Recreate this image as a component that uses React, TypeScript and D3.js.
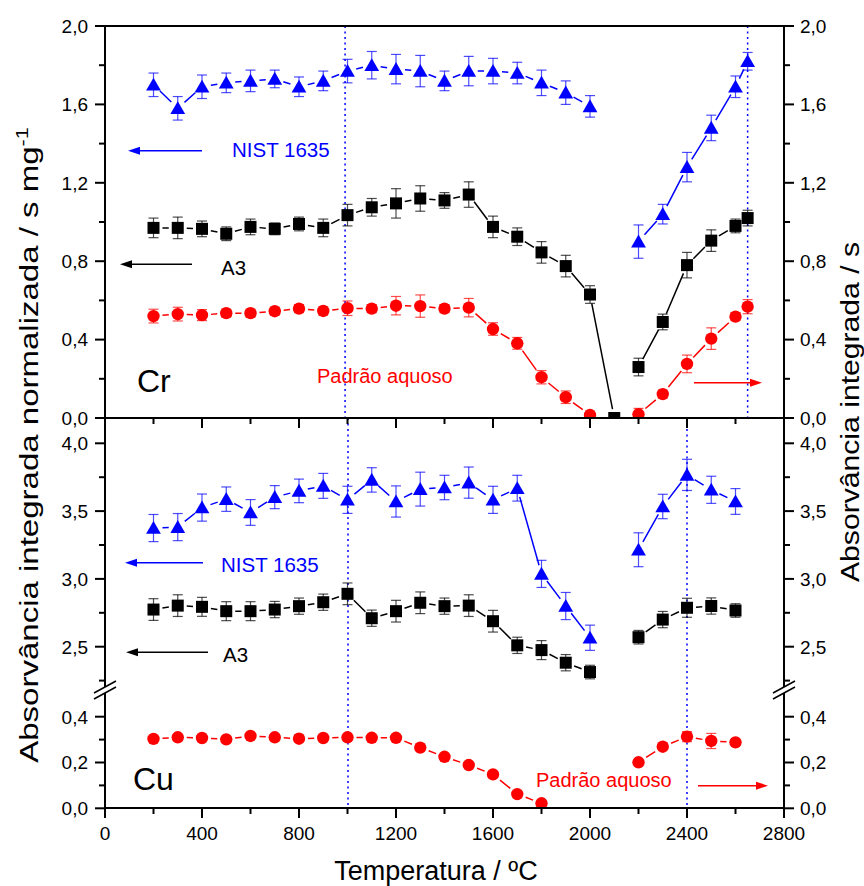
import React from "react";
import * as d3 from "d3";

// ---- Cr panel data (temperature in ºC) ----
const crTemps1 = [200, 300, 400, 500, 600, 700, 800, 900, 1000, 1100, 1200, 1300, 1400, 1500, 1600, 1700, 1800, 1900, 2000];
const crTemps2 = [2200, 2300, 2400, 2500, 2600, 2650];
const crA3Temps1 = [...crTemps1, 2100];

const crNist1 = [1.70, 1.58, 1.69, 1.71, 1.72, 1.73, 1.69, 1.72, 1.77, 1.80, 1.78, 1.77, 1.72, 1.77, 1.77, 1.76, 1.71, 1.66, 1.59];
const crNistErr1 = [0.06, 0.06, 0.06, 0.05, 0.055, 0.045, 0.05, 0.05, 0.06, 0.07, 0.075, 0.08, 0.05, 0.075, 0.065, 0.055, 0.065, 0.06, 0.055];
const crNist2 = [0.90, 1.04, 1.28, 1.48, 1.69, 1.82];
const crNistErr2 = [0.085, 0.05, 0.075, 0.065, 0.055, 0.045];

const crA3_1 = [0.97, 0.97, 0.965, 0.94, 0.975, 0.965, 0.99, 0.97, 1.035, 1.075, 1.095, 1.12, 1.11, 1.14, 0.975, 0.925, 0.845, 0.775, 0.63, 0.0];
const crA3Err1 = [0.05, 0.055, 0.04, 0.035, 0.04, 0.03, 0.035, 0.045, 0.055, 0.045, 0.075, 0.065, 0.04, 0.065, 0.055, 0.045, 0.055, 0.055, 0.045, 0.01];
const crA3_2 = [0.26, 0.49, 0.78, 0.905, 0.98, 1.02];
const crA3Err2 = [0.045, 0.04, 0.065, 0.055, 0.035, 0.04];

const crAq1 = [0.52, 0.53, 0.525, 0.535, 0.535, 0.545, 0.558, 0.546, 0.56, 0.558, 0.573, 0.571, 0.558, 0.563, 0.454, 0.381, 0.208, 0.106, 0.015];
const crAqErr1 = [0.035, 0.035, 0.028, 0.02, 0.02, 0.02, 0.02, 0.02, 0.037, 0.02, 0.047, 0.057, 0.02, 0.047, 0.032, 0.03, 0.034, 0.032, 0.02];
const crAq2 = [0.019, 0.122, 0.276, 0.405, 0.517, 0.568];
const crAqErr2 = [0.03, 0.02, 0.045, 0.055, 0.02, 0.036];

// ---- Cu panel data ----
const cuTemps1 = [200, 300, 400, 500, 600, 700, 800, 900, 1000, 1100, 1200, 1300, 1400, 1500, 1600, 1700, 1800, 1900, 2000];
const cuTemps2 = [2200, 2300, 2400, 2500, 2600];
const cuAqTemps1 = [200, 300, 400, 500, 600, 700, 800, 900, 1000, 1100, 1200, 1300, 1400, 1500, 1600, 1700, 1800];

const cuNist1 = [3.375, 3.382, 3.526, 3.588, 3.49, 3.603, 3.649, 3.686, 3.583, 3.73, 3.571, 3.662, 3.674, 3.71, 3.583, 3.669, 3.037, 2.80, 2.566];
const cuNistErr1 = [0.1, 0.1, 0.1, 0.09, 0.095, 0.085, 0.087, 0.092, 0.1, 0.09, 0.115, 0.125, 0.09, 0.115, 0.1, 0.095, 0.1, 0.1, 0.093];
const cuNist2 = [3.215, 3.534, 3.767, 3.657, 3.571];
const cuNistErr2 = [0.125, 0.09, 0.115, 0.1, 0.095];

const cuA3_1 = [2.774, 2.803, 2.794, 2.762, 2.762, 2.774, 2.799, 2.828, 2.89, 2.71, 2.762, 2.824, 2.799, 2.803, 2.688, 2.51, 2.475, 2.382, 2.313];
const cuA3Err1 = [0.08, 0.08, 0.07, 0.07, 0.07, 0.06, 0.06, 0.06, 0.08, 0.06, 0.08, 0.08, 0.06, 0.08, 0.08, 0.06, 0.07, 0.06, 0.05];
const cuA3_2 = [2.57, 2.70, 2.787, 2.80, 2.767];
const cuA3Err2 = [0.05, 0.06, 0.07, 0.06, 0.05];

const cuAq1 = [0.303, 0.31, 0.307, 0.301, 0.316, 0.31, 0.304, 0.307, 0.31, 0.308, 0.308, 0.265, 0.225, 0.189, 0.148, 0.062, 0.022];
const cuAqErr1 = [0.008, 0.008, 0.008, 0.008, 0.008, 0.008, 0.008, 0.008, 0.008, 0.008, 0.008, 0.008, 0.008, 0.008, 0.008, 0.008, 0.008];
const cuAq2 = [0.201, 0.269, 0.313, 0.294, 0.288];
const cuAqErr2 = [0.008, 0.01, 0.022, 0.033, 0.01];

// ---- axis ticks ----
const xMajor = [0, 400, 800, 1200, 1600, 2000, 2400, 2800];
const xMinor = [200, 600, 1000, 1400, 1800, 2200, 2600];
const crMajor = [0, 0.4, 0.8, 1.2, 1.6, 2.0];
const crMinor = [0.2, 0.6, 1.0, 1.4, 1.8];
const cuHiMajor = [2.5, 3.0, 3.5, 4.0];
const cuHiMinor = [2.25, 2.75, 3.25, 3.75];
const cuLoMajor = [0, 0.2, 0.4];
const cuLoMinor = [0.1, 0.3];

const FONT = "'Liberation Sans', Arial, Helvetica, sans-serif";
const BLUE = "#0000ff";
const RED = "#ff0000";
const BLACK = "#000000";

const L = 105, R = 784, TOP = 26, MID = 418, BOT = 808;

const x = d3.scaleLinear().domain([0, 2800]).range([L, R]);
const yCr = d3.scaleLinear().domain([0, 2]).range([MID, TOP]);
const yCuHi = d3.scaleLinear().domain([2.5, 4.0]).range([646.7, 443.3]);
const yCuLo = d3.scaleLinear().domain([0, 0.4]).range([808.3, 716.7]);
const BREAK_Y = 690;

const fmt = (v: number) => d3.format(".1f")(v).replace(".", ",");

type Shape = "square" | "triangle" | "circle";

function Marker({ cx, cy, shape, color }: { cx: number; cy: number; shape: Shape; color: string }) {
  if (shape === "square") return <rect x={cx - 6} y={cy - 6} width={12} height={12} fill={color} />;
  if (shape === "circle") return <circle cx={cx} cy={cy} r={6.2} fill={color} />;
  const tri = d3.symbol().type(d3.symbolTriangle).size(95)();
  return <path d={tri || ""} transform={`translate(${cx},${cy + 1.5})`} fill={color} />;
}

function Series({ temps, vals, errs, y, color, shape, gap = 9 }: {
  temps: number[]; vals: number[]; errs: number[]; y: d3.ScaleLinear<number, number>;
  color: string; shape: Shape; gap?: number;
}) {
  const pts = temps.map((t, i) => ({ px: x(t), py: y(vals[i]), e: errs[i], v: vals[i] }));
  const segs: string[] = [];
  for (let i = 0; i < pts.length - 1; i++) {
    const a = pts[i], b = pts[i + 1];
    const dx = b.px - a.px, dy = b.py - a.py;
    const len = Math.hypot(dx, dy);
    if (len <= 2 * gap) continue;
    const ux = dx / len, uy = dy / len;
    segs.push(`M${a.px + ux * gap},${a.py + uy * gap}L${b.px - ux * gap},${b.py - uy * gap}`);
  }
  return (
    <g>
      {pts.map((p, i) => {
        const y1 = y(p.v + p.e), y2 = y(p.v - p.e);
        return (
          <g key={"e" + i} stroke={color} strokeOpacity={0.7} strokeWidth={1.2}>
            <line x1={p.px} x2={p.px} y1={y1} y2={y2} />
            <line x1={p.px - 5} x2={p.px + 5} y1={y1} y2={y1} />
            <line x1={p.px - 5} x2={p.px + 5} y1={y2} y2={y2} />
          </g>
        );
      })}
      <path d={segs.join("")} stroke={color} strokeWidth={1.5} fill="none" />
      {pts.map((p, i) => <Marker key={"m" + i} cx={p.px} cy={p.py} shape={shape} color={color} />)}
    </g>
  );
}

function Arrow({ x1, x2, yy, color }: { x1: number; x2: number; yy: number; color: string }) {
  const dir = Math.sign(x2 - x1);
  const head = 12;
  return (
    <g>
      <line x1={x1} x2={x2 - dir * head * 0.6} y1={yy} y2={yy} stroke={color} strokeWidth={1.5} />
      <path d={`M${x2},${yy}L${x2 - dir * head},${yy - 4}L${x2 - dir * head},${yy + 4}Z`} fill={color} />
    </g>
  );
}

function YTicks({ scale, major, minor, labels }: { scale: d3.ScaleLinear<number, number>; major: number[]; minor: number[]; labels: boolean }) {
  return (
    <g>
      {major.map((v) => (
        <g key={"M" + v}>
          <line x1={L - 10} x2={L} y1={scale(v)} y2={scale(v)} stroke={BLACK} strokeWidth={2} />
          <line x1={R} x2={R + 10} y1={scale(v)} y2={scale(v)} stroke={BLACK} strokeWidth={2} />
          {labels && (
            <>
              <text x={88} y={scale(v)} dy="0.36em" textAnchor="end" fontSize={19}>{fmt(v)}</text>
              <text x={800} y={scale(v)} dy="0.36em" textAnchor="start" fontSize={19}>{fmt(v)}</text>
            </>
          )}
        </g>
      ))}
      {minor.map((v) => (
        <g key={"m" + v}>
          <line x1={L - 6} x2={L} y1={scale(v)} y2={scale(v)} stroke={BLACK} strokeWidth={2} />
          <line x1={R} x2={R + 6} y1={scale(v)} y2={scale(v)} stroke={BLACK} strokeWidth={2} />
        </g>
      ))}
    </g>
  );
}

function XTicks({ yy }: { yy: number }) {
  return (
    <g>
      {xMajor.map((t) => <line key={"M" + t} x1={x(t)} x2={x(t)} y1={yy} y2={yy + 10} stroke={BLACK} strokeWidth={2} />)}
      {xMinor.map((t) => <line key={"m" + t} x1={x(t)} x2={x(t)} y1={yy} y2={yy + 6} stroke={BLACK} strokeWidth={2} />)}
    </g>
  );
}

function AxisBreak({ ax }: { ax: number }) {
  return (
    <g>
      <path d={`M${ax - 12},${BREAK_Y - 3 + 6}L${ax + 12},${BREAK_Y - 3 - 6}L${ax + 12},${BREAK_Y + 3 - 6}L${ax - 12},${BREAK_Y + 3 + 6}Z`} fill="#fff" />
      <line x1={ax - 11} x2={ax + 11} y1={BREAK_Y - 3 + 6} y2={BREAK_Y - 3 - 6} stroke={BLACK} strokeWidth={1.5} />
      <line x1={ax - 11} x2={ax + 11} y1={BREAK_Y + 3 + 6} y2={BREAK_Y + 3 - 6} stroke={BLACK} strokeWidth={1.5} />
    </g>
  );
}

export default function App() {
  return (
    <svg width={864} height={886} style={{ position: "absolute", left: 0, top: 0, background: "#fff" }} fontFamily={FONT}>
      <defs>
        <clipPath id="clipCr"><rect x={L} y={TOP} width={R - L} height={MID - TOP} /></clipPath>
        <clipPath id="clipCu"><rect x={L} y={MID} width={R - L} height={BOT - MID} /></clipPath>
      </defs>

      {/* reference temperatures */}
      <g stroke={BLUE} strokeWidth={1.5} strokeDasharray="2,3.5">
        <line x1={x(990)} x2={x(990)} y1={TOP} y2={MID} />
        <line x1={x(2650)} x2={x(2650)} y1={TOP} y2={MID} />
        <line x1={x(1002)} x2={x(1002)} y1={MID} y2={BOT} />
        <line x1={x(2400)} x2={x(2400)} y1={MID} y2={BOT} />
      </g>

      {/* Cr panel */}
      <g clipPath="url(#clipCr)">
        <Series temps={crTemps1} vals={crNist1} errs={crNistErr1} y={yCr} color={BLUE} shape="triangle" />
        <Series temps={crTemps2} vals={crNist2} errs={crNistErr2} y={yCr} color={BLUE} shape="triangle" />
        <Series temps={crA3Temps1} vals={crA3_1} errs={crA3Err1} y={yCr} color={BLACK} shape="square" />
        <Series temps={crTemps2} vals={crA3_2} errs={crA3Err2} y={yCr} color={BLACK} shape="square" />
        <Series temps={crTemps1} vals={crAq1} errs={crAqErr1} y={yCr} color={RED} shape="circle" />
        <Series temps={crTemps2} vals={crAq2} errs={crAqErr2} y={yCr} color={RED} shape="circle" />
      </g>

      {/* Cu panel */}
      <g clipPath="url(#clipCu)">
        <Series temps={cuTemps1} vals={cuNist1} errs={cuNistErr1} y={yCuHi} color={BLUE} shape="triangle" />
        <Series temps={cuTemps2} vals={cuNist2} errs={cuNistErr2} y={yCuHi} color={BLUE} shape="triangle" />
        <Series temps={cuTemps1} vals={cuA3_1} errs={cuA3Err1} y={yCuHi} color={BLACK} shape="square" />
        <Series temps={cuTemps2} vals={cuA3_2} errs={cuA3Err2} y={yCuHi} color={BLACK} shape="square" />
        <Series temps={cuAqTemps1} vals={cuAq1} errs={cuAqErr1} y={yCuLo} color={RED} shape="circle" />
        <Series temps={cuTemps2} vals={cuAq2} errs={cuAqErr2} y={yCuLo} color={RED} shape="circle" />
      </g>

      {/* frame */}
      <g stroke={BLACK} strokeWidth={2} fill="none">
        <line x1={L} x2={R} y1={TOP} y2={TOP} />
        <line x1={L} x2={R} y1={MID} y2={MID} />
        <line x1={L} x2={R} y1={BOT} y2={BOT} />
        <line x1={L} x2={L} y1={TOP - 1} y2={BOT + 1} />
        <line x1={R} x2={R} y1={TOP - 1} y2={BOT + 1} />
      </g>
      <XTicks yy={MID} />
      <XTicks yy={BOT} />
      <YTicks scale={yCr} major={crMajor} minor={crMinor} labels />
      <YTicks scale={yCuHi} major={cuHiMajor} minor={cuHiMinor} labels />
      <YTicks scale={yCuLo} major={cuLoMajor} minor={cuLoMinor} labels />
      <AxisBreak ax={L} />
      <AxisBreak ax={R} />

      {xMajor.map((t) => (
        <text key={t} x={x(t)} y={840} textAnchor="middle" fontSize={19}>{t}</text>
      ))}

      {/* axis titles */}
      <text x={436} y={880} textAnchor="middle" fontSize={27}>Temperatura / ºC</text>
      <text transform="translate(38,445) rotate(-90) scale(1.27,1)" textAnchor="middle" fontSize={26}>
        Absorvância integrada normalizada / s mg<tspan dy={-10} fontSize={17}>-1</tspan>
      </text>
      <text transform="translate(859,412) rotate(-90) scale(1.16,1)" textAnchor="middle" fontSize={26}>Absorvância integrada / s</text>

      {/* annotations */}
      <text x={232} y={157} fontSize={20.5} fill={BLUE}>NIST 1635</text>
      <Arrow x1={202} x2={128} yy={150.7} color={BLUE} />
      <text x={221} y={275} fontSize={20.5} fill={BLACK}>A3</text>
      <Arrow x1={192} x2={120} yy={264.3} color={BLACK} />
      <text x={137} y={392} fontSize={32} fill={BLACK}>Cr</text>
      <text x={317} y={383} fontSize={20} fill={RED}>Padrão aquoso</text>
      <Arrow x1={694} x2={762} yy={382.7} color={RED} />

      <text x={221} y={571.7} fontSize={20.5} fill={BLUE}>NIST 1635</text>
      <Arrow x1={203} x2={125} yy={562.7} color={BLUE} />
      <text x={223} y={662} fontSize={20.5} fill={BLACK}>A3</text>
      <Arrow x1={208} x2={126} yy={652.3} color={BLACK} />
      <text x={133} y={790} fontSize={32} fill={BLACK}>Cu</text>
      <text x={536} y={786.7} fontSize={20} fill={RED}>Padrão aquoso</text>
      <Arrow x1={698} x2={768} yy={785.7} color={RED} />
    </svg>
  );
}
